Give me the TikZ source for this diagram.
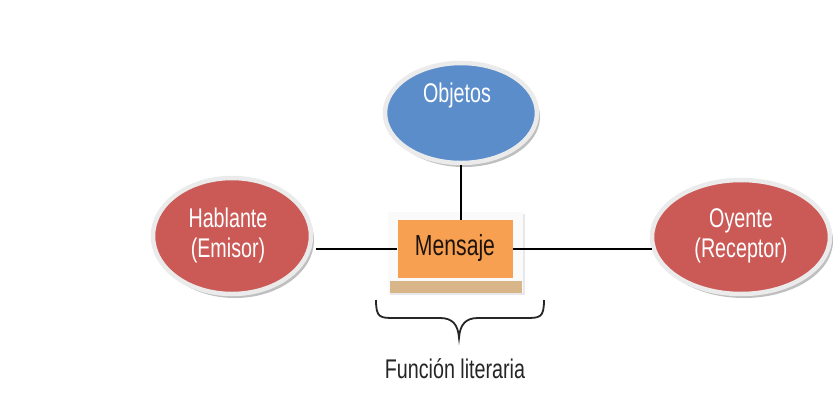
\documentclass[tikz,border=0pt]{standalone}
\usepackage{fontspec}
\setmainfont{Liberation Sans}[FakeStretch=0.73]
\usetikzlibrary{shapes.geometric,shadows}
\definecolor{roleRed}{HTML}{CB5A57}
\definecolor{objBlue}{HTML}{5B8DCB}
\definecolor{msgOrange}{HTML}{F8A052}
\definecolor{msgShade}{HTML}{D9B58A}
\definecolor{rimGray}{HTML}{EBEBEB}
\tikzset{
  bubble/.style={ellipse, draw=rimGray, line width=4.5pt, inner sep=0pt,
    drop shadow={shadow xshift=3pt, shadow yshift=-4pt, fill=black, opacity=0.25}},
  label text/.style={anchor=base, inner sep=0pt, text=white, font=\fontsize{27}{30}\selectfont},
  link/.style={line width=2.5pt, black},
}
\begin{document}
\begin{tikzpicture}[x=1pt, y=-1pt]
\useasboundingbox (0,0) rectangle (833,413);
\fill[white] (0,0) rectangle (833,413);

% Outer parties
\node[bubble, fill=roleRed, minimum width=158pt, minimum height=116pt] (emisor) at (232,236) {};
\node[bubble, fill=roleRed, minimum width=178pt, minimum height=114pt] (receptor) at (741,237) {};
\node[bubble, fill=objBlue, minimum width=152pt, minimum height=100pt] (objetos) at (461,113) {};

\node[label text] (emisorA) at (228,227) {Hablante};
\node[label text] (emisorB) at (228,257) {(Emisor)};
\node[label text] (receptorA) at (741,227) {Oyente};
\node[label text] (receptorB) at (741,257) {(Receptor)};
\node[label text] (objetosTxt) at (457,102) {Objetos};

% Message box with its frame and shading
\fill[white!96!gray, drop shadow={shadow xshift=1.5pt, shadow yshift=-1.5pt, opacity=0.18}] (388,212) rectangle (523,293);
\fill[msgShade] (390,281) rectangle (522,293);
\node[fill=msgOrange, minimum width=115pt, minimum height=58pt, inner sep=0pt] (mensaje) at (455,249) {};
\node[label text, text=black!85!brown, font=\fontsize{29}{30}\selectfont] (mensajeTxt) at (455,255) {Mensaje};

% Connectors
\draw[link] (objetos.south) -- (objetos.south |- mensaje.north);
\draw[link] (emisor.east |- mensaje.west) ++(3,0) -- (mensaje.west);
\draw[link] (mensaje.east) -- ([xshift=2pt]receptor.west |- mensaje.east);

% Brace under the message
\coordinate (braceL) at (376,300);
\coordinate (braceR) at (544,300);
\coordinate (braceTip) at (459,338);
\draw[line width=1.8pt, black!85] (braceL) .. controls (376,318) and (380,318) .. (395,318)
  -- (440,318) .. controls (452,318) and (458,324) .. (braceTip)
  .. controls (460,324) and (466,318) .. (478,318)
  -- (525,318) .. controls (540,318) and (544,318) .. (braceR);

\node[label text, text=black!85] (funcion) at (455,378) {Función literaria};
\end{tikzpicture}
\end{document}
